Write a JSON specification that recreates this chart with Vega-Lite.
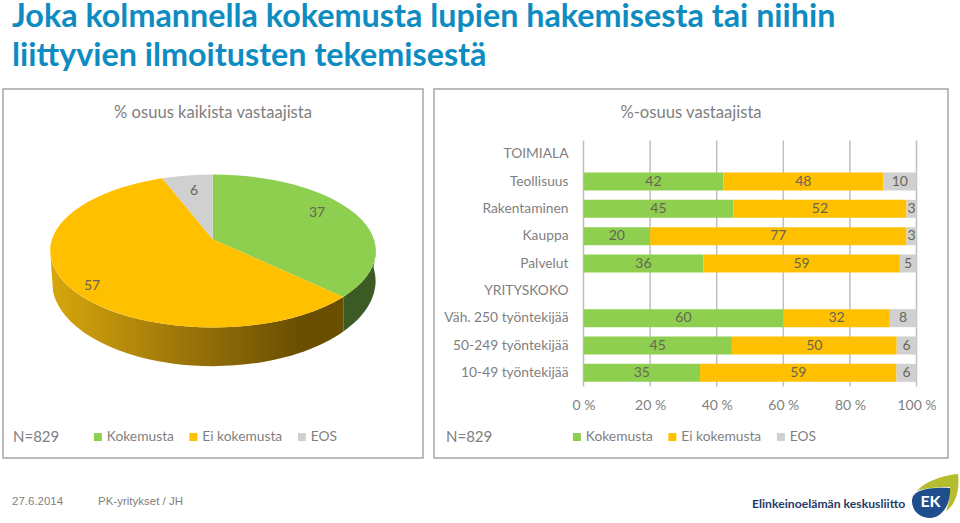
{
"$schema":"https://vega.github.io/schema/vega-lite/v6.json",
"background":"white",
"padding":{"left":2,"top":0,"right":0,"bottom":0},
"title":{"text":["Joka kolmannella kokemusta lupien hakemisesta tai niihin","liittyvien ilmoitusten tekemisestä"],"anchor":"start","frame":"group","font":"Lato","fontSize":32.3,"fontWeight":"bold","color":"#0E8CC1","lineHeight":39,"offset":16,"dx":9},
"config":{"font":"Lato","view":{"stroke":"#A6A6A6","strokeWidth":1.5},"text":{"font":"Lato"}},
"datasets":{
"pie":[{"seg":"Kokemusta","slice":"A","v":37},{"seg":"Ei kokemusta","slice":"B","v":57},{"seg":"EOS","slice":"C","v":6}],
"bars":[
{"g":"Teollisuus","seg":"Kokemusta","ord":1,"v":42},{"g":"Teollisuus","seg":"Ei kokemusta","ord":2,"v":48},{"g":"Teollisuus","seg":"EOS","ord":3,"v":10},
{"g":"Rakentaminen","seg":"Kokemusta","ord":1,"v":45},{"g":"Rakentaminen","seg":"Ei kokemusta","ord":2,"v":52},{"g":"Rakentaminen","seg":"EOS","ord":3,"v":3},
{"g":"Kauppa","seg":"Kokemusta","ord":1,"v":20},{"g":"Kauppa","seg":"Ei kokemusta","ord":2,"v":77},{"g":"Kauppa","seg":"EOS","ord":3,"v":3},
{"g":"Palvelut","seg":"Kokemusta","ord":1,"v":36},{"g":"Palvelut","seg":"Ei kokemusta","ord":2,"v":59},{"g":"Palvelut","seg":"EOS","ord":3,"v":5},
{"g":"Väh. 250 työntekijää","seg":"Kokemusta","ord":1,"v":60},{"g":"Väh. 250 työntekijää","seg":"Ei kokemusta","ord":2,"v":32},{"g":"Väh. 250 työntekijää","seg":"EOS","ord":3,"v":8},
{"g":"50-249 työntekijää","seg":"Kokemusta","ord":1,"v":45},{"g":"50-249 työntekijää","seg":"Ei kokemusta","ord":2,"v":50},{"g":"50-249 työntekijää","seg":"EOS","ord":3,"v":6},
{"g":"10-49 työntekijää","seg":"Kokemusta","ord":1,"v":35},{"g":"10-49 työntekijää","seg":"Ei kokemusta","ord":2,"v":59},{"g":"10-49 työntekijää","seg":"EOS","ord":3,"v":6}
],
"ticks":[{"t":0},{"t":0.2},{"t":0.4},{"t":0.6},{"t":0.8},{"t":1}]
},
"vconcat":[
{"hconcat":[
{"width":420,"height":369,
"title":{"text":"% osuus kaikista vastaajista","orient":"top","anchor":"middle","offset":-33,"font":"Lato","fontSize":16.6,"fontWeight":"normal","color":"#7F7F7F"},
"data":{"name":"pie"},
"layer":[
{"transform":[{"filter":"datum.seg=='EOS'"}],"mark":{"type":"rect","fill":null,"stroke":"#A6A6A6","strokeWidth":1.5},"encoding":{}},
{"transform":[{"filter":"datum.seg=='Ei kokemusta'"}],
"mark":{"type":"point","filled":true,"opacity":1,"size":4,"shape":"M-162.8 -22.5 A162.8 76.5 0 0 0 130.3 23.4 L130.3 58 A161 84 0 0 1 -160 18 Z",
"fill":{"gradient":"linear","x1":0,"y1":0,"x2":1,"y2":0,"stops":[{"offset":0,"color":"#D8A70C"},{"offset":0.5,"color":"#96700A"},{"offset":0.85,"color":"#6B4F00"},{"offset":1,"color":"#6B4F00"}]}},
"encoding":{}},
{"transform":[{"filter":"datum.seg=='Kokemusta'"}],
"mark":{"type":"point","filled":true,"opacity":1,"size":4,"color":"#3B5A24","shape":"M130.3 23.4 A162.8 76.5 0 0 0 162.8 -22.5 L160.5 -6 A161 84 0 0 1 130.3 58 Z"},
"encoding":{}},
{"mark":{"type":"point","filled":true,"opacity":1,"size":4},
"encoding":{
"shape":{"field":"slice","type":"nominal","legend":null,"scale":{"domain":["A","B","C"],"range":["M-0.3 -34.2 L-0.3 -99 A162.8 76.5 0 0 1 130.3 23.4 Z","M-0.3 -34.2 L130.3 23.4 A162.8 76.5 0 1 1 -50.7 -95.2 Z","M-0.3 -34.2 L-50.7 -95.2 A162.8 76.5 0 0 1 -0.3 -99 Z"]}},
"color":{"field":"seg","type":"nominal","scale":{"domain":["Kokemusta","Ei kokemusta","EOS"],"range":["#8FCF4F","#FFC000","#D0D0D0"]},
"legend":{"orient":"none","legendX":10,"legendY":341,"direction":"horizontal","columns":3,"title":"N=829","titleOrient":"left","titlePadding":31,"titleFont":"Lato","titleFontSize":15,"titleFontWeight":"normal","titleColor":"#7F7F7F","labelFont":"Lato","labelFontSize":13.8,"labelColor":"#7F7F7F","symbolType":"square","symbolSize":64,"columnPadding":12.5,"labelOffset":2}}}},
{"transform":[{"filter":"datum.seg=='Kokemusta'"}],"mark":{"type":"text","dx":104,"dy":-60.5,"fontSize":14,"color":"#666655"},"encoding":{"text":{"field":"v","type":"quantitative"}}},
{"transform":[{"filter":"datum.seg=='Ei kokemusta'"}],"mark":{"type":"text","dx":-121,"dy":12.5,"fontSize":14,"color":"#666655"},"encoding":{"text":{"field":"v","type":"quantitative"}}},
{"transform":[{"filter":"datum.seg=='EOS'"}],"mark":{"type":"text","dx":-19,"dy":-82.5,"fontSize":14,"color":"#666655"},"encoding":{"text":{"field":"v","type":"quantitative"}}}
]},
{"width":514,"height":369,
"title":{"text":"%-osuus vastaajista","orient":"top","anchor":"middle","offset":-33,"font":"Lato","fontSize":16.6,"fontWeight":"normal","color":"#7F7F7F"},
"resolve":{"scale":{"y":"independent"},"axis":{"y":"independent"}},
"layer":[
{"data":{"name":"ticks"},
"mark":{"type":"rule","color":"#BFBFBF","strokeWidth":1.5},
"encoding":{
"x":{"field":"t","type":"quantitative","scale":{"domain":[0,1],"range":[149.5,482.5]}},
"y":{"datum":0,"type":"quantitative","scale":{"domain":[0,1],"range":[297.5,51.5]},"axis":null},
"y2":{"datum":1}}},
{"data":{"name":"bars"},
"layer":[
{"mark":{"type":"bar"},
"encoding":{
"x":{"field":"v","type":"quantitative","stack":"normalize","scale":{"domain":[0,1],"range":[149.5,482.5]},
"axis":{"orient":"bottom","offset":-62,"title":null,"values":[0,0.2,0.4,0.6,0.8,1],"labelExpr":"round(datum.value*100)+' %'","labelFlush":false,"labelOverlap":false,"grid":false,"ticks":false,"domain":false,"labelFont":"Lato","labelFontSize":14,"labelColor":"#7F7F7F","labelPadding":2}},
"y":{"field":"g","type":"nominal","scale":{"type":"band","domain":["TOIMIALA","Teollisuus","Rakentaminen","Kauppa","Palvelut","YRITYSKOKO","Väh. 250 työntekijää","50-249 työntekijää","10-49 työntekijää"],"range":[51.5,297.5],"paddingInner":0.34,"paddingOuter":0.17},
"axis":{"orient":"left","offset":-134,"title":null,"ticks":false,"domain":false,"grid":false,"labelFont":"Lato","labelFontSize":13.8,"labelColor":"#7F7F7F","labelPadding":0}},
"order":{"field":"ord","type":"quantitative"},
"color":{"field":"seg","type":"nominal","scale":{"domain":["Kokemusta","Ei kokemusta","EOS"],"range":["#8FCF4F","#FFC000","#D0D0D0"]},
"legend":{"orient":"none","legendX":12,"legendY":341,"direction":"horizontal","columns":3,"title":"N=829","titleOrient":"left","titlePadding":77,"titleFont":"Lato","titleFontSize":15,"titleFontWeight":"normal","titleColor":"#7F7F7F","labelFont":"Lato","labelFontSize":13.8,"labelColor":"#7F7F7F","symbolType":"square","symbolSize":64,"columnPadding":12.5,"labelOffset":2}}}},
{"mark":{"type":"text","fontSize":14,"color":"#666655"},
"encoding":{
"x":{"field":"v","type":"quantitative","stack":"normalize","bandPosition":0.5,"scale":{"domain":[0,1],"range":[149.5,482.5]}},
"y":{"field":"g","type":"nominal"},
"order":{"field":"ord","type":"quantitative"},
"text":{"field":"v","type":"quantitative"}}}
]}
]}
],"spacing":9,"resolve":{"scale":{"color":"independent","shape":"independent"},"legend":{"color":"independent"}}},
{"width":947,"height":52,"view":{"stroke":null},
"data":{"values":[{"item":"date","label":"27.6.2014"},{"item":"author","label":"PK-yritykset / JH"},{"item":"org","label":"Elinkeinoelämän keskusliitto"},{"item":"logo","label":"EK"}]},
"layer":[
{"transform":[{"filter":"datum.item=='date'"}],"mark":{"type":"text","align":"left","font":"Liberation Sans","fontSize":11.5,"color":"#7F7F7F","dx":-464.5,"dy":4},"encoding":{"text":{"field":"label"}}},
{"transform":[{"filter":"datum.item=='author'"}],"mark":{"type":"text","align":"left","font":"Liberation Sans","fontSize":11.5,"color":"#7F7F7F","dx":-378.5,"dy":4},"encoding":{"text":{"field":"label"}}},
{"transform":[{"filter":"datum.item=='org'"}],"mark":{"type":"text","align":"left","font":"Lato","fontSize":12.2,"fontWeight":"bold","color":"#1F3A68","dx":275.5,"dy":6},"encoding":{"text":{"field":"label"}}},
{"transform":[{"filter":"datum.item=='logo'"}],"mark":{"type":"point","filled":true,"opacity":1,"size":4,"color":"#B5BD2E","shape":"M440.5 -7 C448.5 -17 468.5 -23 481.5 -24 C483.5 -7 478.5 8 469.5 13 C473.5 3 473.5 -4 473.5 -11 C461.5 -11 448.5 -10 440.5 -7 Z"},"encoding":{}},
{"transform":[{"filter":"datum.item=='logo'"}],"mark":{"type":"point","filled":true,"opacity":1,"size":4,"color":"#1F4E8C","shape":"M435.5 3 C435.5 -7 448.5 -11 473.5 -10 C474.5 6 465.5 20 453.5 20 C443.5 20 435.5 13 435.5 3 Z"},"encoding":{}},
{"transform":[{"filter":"datum.item=='logo'"}],"mark":{"type":"text","font":"Lato","fontWeight":"bold","fontSize":16,"color":"white","dx":454,"dy":4},"encoding":{"text":{"field":"label"}}}
]}
],
"spacing":13
}
